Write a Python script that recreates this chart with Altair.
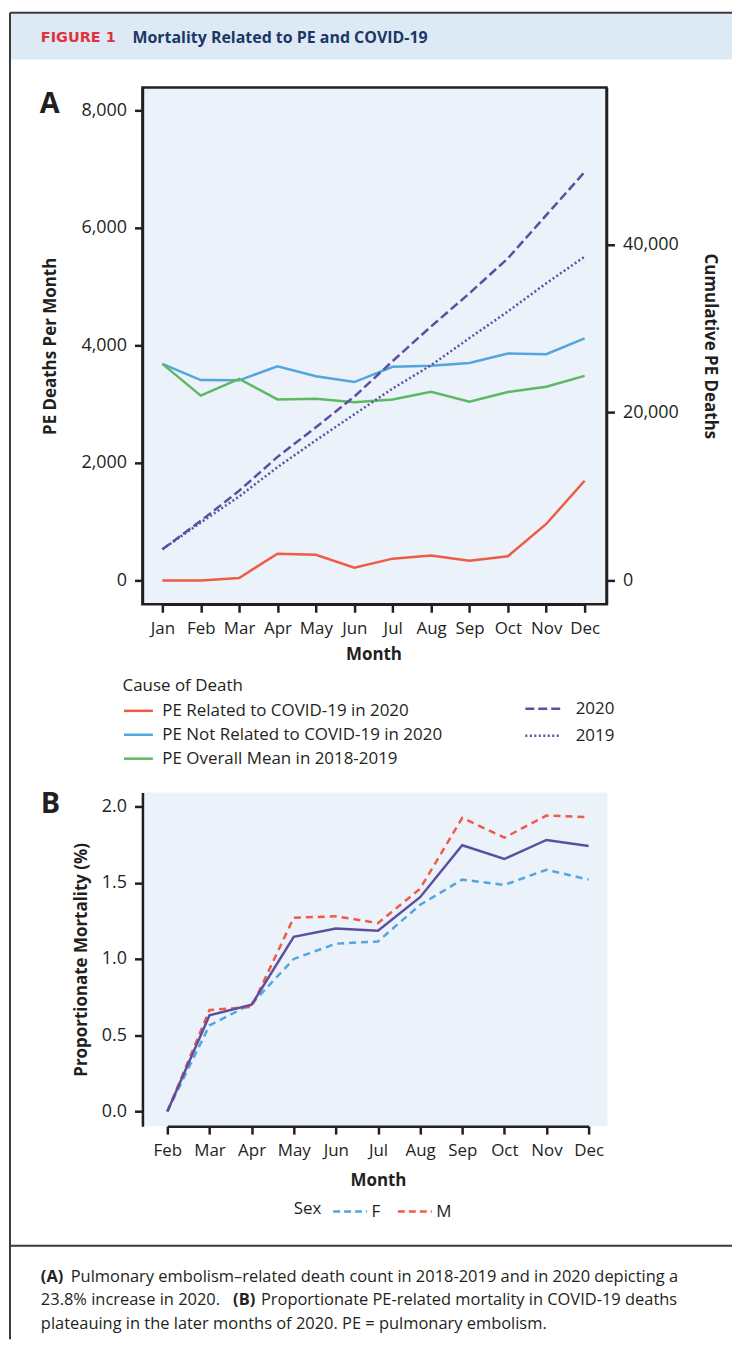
import altair as alt
import pandas as pd

# ---------------- data ----------------
months = ["Jan", "Feb", "Mar", "Apr", "May", "Jun", "Jul", "Aug", "Sep", "Oct", "Nov", "Dec"]
covid_pe_2020 = [0, 0, 40, 455, 435, 215, 370, 425, 335, 410, 960, 1695]
noncovid_pe_2020 = [3685, 3410, 3405, 3645, 3475, 3375, 3635, 3655, 3700, 3860, 3850, 4120]
mean_pe_2018_2019 = [3685, 3145, 3430, 3080, 3090, 3030, 3080, 3210, 3040, 3205, 3295, 3480]
cumulative_2020 = [3700, 7100, 10680, 14720, 18250, 21900, 26140, 30270, 34220, 38380, 43530, 48670]
cumulative_2019 = [3700, 6900, 10000, 13500, 16700, 19790, 22870, 25640, 28880, 32050, 35410, 38580]

cause_names = ["PE Related to COVID-19 in 2020", "PE Not Related to COVID-19 in 2020", "PE Overall Mean in 2018-2019"]
year_names = ["2020", "2019"]

months_b = ["Feb", "Mar", "Apr", "May", "Jun", "Jul", "Aug", "Sep", "Oct", "Nov", "Dec"]
prop_overall = [0.0, 0.63, 0.70, 1.145, 1.20, 1.185, 1.405, 1.745, 1.655, 1.78, 1.74]
prop_female = [0.0, 0.565, 0.705, 1.0, 1.10, 1.115, 1.355, 1.52, 1.485, 1.585, 1.52]
prop_male = [0.0, 0.665, 0.685, 1.27, 1.28, 1.235, 1.46, 1.925, 1.795, 1.94, 1.93]
sex_names = ["F", "M"]

header_tag = "FIGURE 1"
header_title = "Mortality Related to PE and COVID-19"
cap1_bold, cap1_rest = "(A)", "Pulmonary embolism\u2013related death count in 2018-2019 and in 2020 depicting a"
cap2_a, cap2_bold, cap2_rest = "23.8% increase in 2020.", "(B)", "Proportionate PE-related mortality in COVID-19 deaths"
cap3 = "plateauing in the later months of 2020. PE = pulmonary embolism."

# ---------------- styles ----------------
FONT = "Open Sans"
INK = "#231f20"
RED = "#ef5b45"
BLUE = "#53a5de"
GREEN = "#5db863"
PURPLE = "#5c4fa2"
BG = "#ebf2fa"
HEADER_BG = "#dde9f5"
FRAME = "#3a3a3a"

df_cause = pd.DataFrame(
    [{"Month": m, "Cause": cause_names[0], "Deaths": v} for m, v in zip(months, covid_pe_2020)]
    + [{"Month": m, "Cause": cause_names[1], "Deaths": v} for m, v in zip(months, noncovid_pe_2020)]
    + [{"Month": m, "Cause": cause_names[2], "Deaths": v} for m, v in zip(months, mean_pe_2018_2019)]
)
df_cum = pd.DataFrame(
    [{"Month": m, "Year": "2020", "Cumulative": v} for m, v in zip(months, cumulative_2020)]
    + [{"Month": m, "Year": "2019", "Cumulative": v} for m, v in zip(months, cumulative_2019)]
)
df_overall = pd.DataFrame({"Month": months_b, "Value": prop_overall})
df_sex = pd.DataFrame(
    [{"Month": m, "Sex": "F", "Value": v} for m, v in zip(months_b, prop_female)]
    + [{"Month": m, "Sex": "M", "Value": v} for m, v in zip(months_b, prop_male)]
)

one = pd.DataFrame({"k": [0]})


def text(t, x, y, size, weight="normal", color=INK, font=FONT):
    return alt.Chart(one).mark_text(
        text=t, align="left", baseline="middle", font=font, fontSize=size,
        fontWeight=weight, color=color
    ).encode(x=alt.value(x), y=alt.value(y))


def hrule(x1, x2, y, color=FRAME, w=2):
    return alt.Chart(one).mark_rule(color=color, strokeWidth=w).encode(
        x=alt.value(x1), x2=alt.value(x2), y=alt.value(y))


def vrule(x, y1, y2, color=FRAME, w=2):
    return alt.Chart(one).mark_rule(color=color, strokeWidth=w).encode(
        x=alt.value(x), y=alt.value(y1), y2=alt.value(y2))


# ---------------- panel A ----------------
WA, HA = 466, 519

header_band = alt.Chart(one).mark_rect(color=HEADER_BG).encode(
    x=alt.value(-132), x2=alt.value(592), y=alt.value(-74), y2=alt.value(-28))

x_a = alt.X("Month:O", sort=months,
            scale=alt.Scale(type="point", range=[20, 444], padding=0),
            axis=alt.Axis(title="Month", labelAngle=0, titlePadding=10, labelFontSize=17))

cause_lines = alt.Chart(df_cause).mark_line(strokeWidth=2.5).encode(
    x=x_a,
    y=alt.Y("Deaths:Q",
            scale=alt.Scale(domain=[-407, 8390], nice=False, zero=False),
            axis=alt.Axis(title="PE Deaths Per Month", orient="left",
                          values=[0, 2000, 4000, 6000, 8000], format=",.0f",
                          titlePadding=21)),
    color=alt.Color("Cause:N",
                    scale=alt.Scale(domain=cause_names, range=[RED, BLUE, GREEN]),
                    legend=alt.Legend(title="Cause of Death", orient="none",
                                      legendX=-20, legendY=593,
                                      symbolType="stroke", symbolSize=841,
                                      symbolStrokeWidth=2.5, labelOffset=8,
                                      labelLimit=0, rowPadding=-2, titlePadding=0)),
)

cum_lines = alt.Chart(df_cum).mark_line(strokeWidth=2.5, color=PURPLE).encode(
    x=x_a,
    y=alt.Y("Cumulative:Q",
            scale=alt.Scale(domain=[-2849, 58754], nice=False, zero=False),
            axis=alt.Axis(title="Cumulative PE Deaths", orient="right",
                          values=[0, 20000, 40000], format=",.0f", titlePadding=22)),
    strokeDash=alt.StrokeDash("Year:N",
                              scale=alt.Scale(domain=year_names, range=[[9, 4], [2, 2.5]]),
                              legend=alt.Legend(title=None, orient="none",
                                                legendX=383, legendY=605,
                                                symbolType="stroke", symbolSize=1225,
                                                symbolStrokeColor=PURPLE,
                                                symbolStrokeWidth=2.5, labelOffset=14,
                                                labelLimit=0, rowPadding=-3)),
)

panel_a = alt.layer(
    header_band,
    hrule(-133, 592, -75),
    vrule(-133, -75, 1257),
    text(header_tag, -102, -50, 14.5, "bold", "#e0323b", "DejaVu Sans"),
    text(header_title, -10, -50, 16, "bold", "#1b3767"),
    text("A", -103, 17, 29, "bold"),
    cause_lines,
    cum_lines,
).resolve_scale(y="independent").properties(
    width=WA, height=HA,
    view=alt.ViewBackground(fill=BG, stroke=INK, strokeWidth=2.5),
)

# ---------------- panel B ----------------
WB, HB = 467, 335

x_b = alt.X("Month:O", sort=months_b,
            scale=alt.Scale(type="point", range=[25, 448], padding=0),
            axis=alt.Axis(title="Month", labelAngle=0, titlePadding=15, labelFontSize=17))
y_b = alt.Y("Value:Q",
            scale=alt.Scale(domain=[-0.096, 2.091], nice=False, zero=False),
            axis=alt.Axis(title="Proportionate Mortality (%)",
                          values=[0, 0.5, 1, 1.5, 2], format=".1f", titlePadding=11))

sex_lines = alt.Chart(df_sex).mark_line(strokeWidth=2.5, strokeDash=[7, 5]).encode(
    x=x_b, y=y_b,
    color=alt.Color("Sex:N",
                    scale=alt.Scale(domain=sex_names, range=[BLUE, RED]),
                    legend=alt.Legend(title=None, orient="none", direction="horizontal",
                                      legendX=190, legendY=402,
                                      symbolType="stroke", symbolSize=1156,
                                      symbolDash=[7, 4], symbolStrokeWidth=2.5,
                                      labelOffset=3, columnPadding=12)),
)
overall_line = alt.Chart(df_overall).mark_line(strokeWidth=2.5, color=PURPLE).encode(
    x=x_b, y=y_b)

panel_b = alt.layer(
    text("B", -102, 12, 29, "bold"),
    text("Sex", 152, 418, 17),
    hrule(-133, 592, 455),
    text(cap1_bold, -102, 486, 16.5, "bold"),
    text(cap1_rest, -72, 486, 16.5),
    text(cap2_a, -102, 510, 16.5),
    text(cap2_bold, 91, 510, 16.5, "bold"),
    text(cap2_rest, 119, 510, 16.5),
    text(cap3, -102, 534, 16.5),
    sex_lines,
    overall_line,
).properties(
    width=WB, height=HB,
    view=alt.ViewBackground(fill=BG, stroke="transparent", strokeWidth=0),
)

chart = alt.vconcat(panel_a, panel_b, spacing=189, bounds="flush").resolve_scale(
    x="independent", y="independent", color="independent", strokeDash="independent"
).properties(
    padding={"left": -1, "top": -1, "right": 0, "bottom": 0},
    background="white",
).configure_axis(
    labelFont=FONT, labelFontSize=18, labelColor=INK,
    titleFont=FONT, titleFontSize=17, titleFontWeight="bold", titleColor=INK,
    domainColor=INK, domainWidth=2.5, tickColor=INK, tickWidth=2.5, tickSize=8,
    labelPadding=8, grid=False,
).configure_legend(
    labelFont=FONT, labelFontSize=17, labelColor=INK,
    titleFont=FONT, titleFontSize=17, titleFontWeight="normal", titleColor=INK,
)

chart.save("out.html", embed_options={"renderer": "svg", "actions": False})
